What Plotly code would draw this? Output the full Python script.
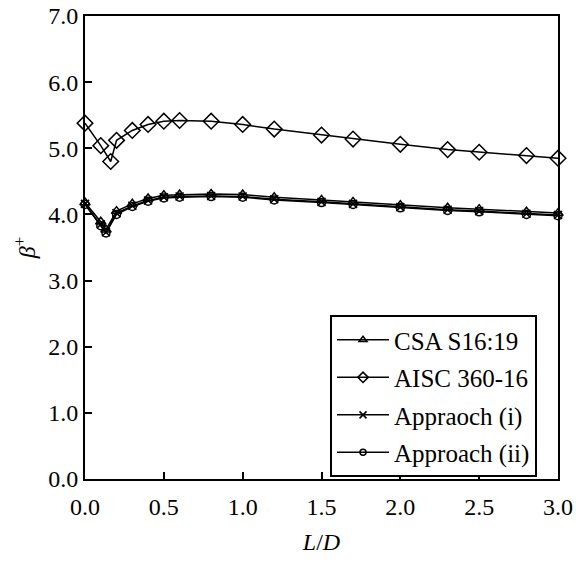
import plotly.graph_objects as go

x_lower = [0, 0.1, 0.133, 0.2, 0.3, 0.4, 0.5, 0.6, 0.8, 1.0, 1.2, 1.5, 1.7, 2.0, 2.3, 2.5, 2.8, 3.0]
x_aisc = [0, 0.1, 0.163, 0.2, 0.3, 0.4, 0.5, 0.6, 0.8, 1.0, 1.2, 1.5, 1.7, 2.0, 2.3, 2.5, 2.8, 3.0]

csa = [4.18, 3.89, 3.77, 4.05, 4.16, 4.24, 4.29, 4.30, 4.31, 4.30, 4.26, 4.22, 4.19, 4.14, 4.10, 4.08, 4.04, 4.02]
aisc = [5.38, 5.04, 4.80, 5.12, 5.27, 5.36, 5.41, 5.42, 5.41, 5.36, 5.29, 5.20, 5.14, 5.06, 4.98, 4.94, 4.89, 4.85]
appr_i = [4.16, 3.85, 3.73, 4.02, 4.13, 4.21, 4.26, 4.27, 4.28, 4.27, 4.23, 4.19, 4.16, 4.11, 4.07, 4.05, 4.01, 3.99]
appr_ii = [4.15, 3.83, 3.72, 4.00, 4.12, 4.20, 4.25, 4.26, 4.27, 4.26, 4.22, 4.18, 4.15, 4.10, 4.06, 4.04, 4.00, 3.98]

names = ["CSA S16:19", "AISC 360-16", "Appraoch (i)", "Approach (ii)"]

FONT = "Liberation Serif, Times New Roman, serif"
FS = 24

series = [
    (names[0], x_lower, csa, "triangle-up-open", 9, 7),
    (names[1], x_aisc, aisc, "diamond-open", 12, 8),
    (names[2], x_lower, appr_i, "x-thin-open", 8, 7),
    (names[3], x_lower, appr_ii, "circle-open", 8, 6),
]

fig = go.Figure()
for i, (nm, xs, ys, sym, sz, lsz) in enumerate(series):
    fig.add_trace(go.Scatter(
        x=xs, y=ys, name=nm, mode="lines+markers",
        line=dict(color="black", width=1.5),
        marker=dict(symbol=sym, size=sz, color="black", line=dict(color="black", width=1.5)),
        cliponaxis=False, showlegend=False,
    ))
for i, (nm, xs, ys, sym, sz, lsz) in enumerate(series):
    fig.add_trace(go.Scatter(
        x=[None], y=[None], name=nm, mode="lines+markers",
        line=dict(color="black", width=1.5),
        marker=dict(symbol=sym, size=lsz, color="black", line=dict(color="black", width=1.5)),
        legendgroup=f"g{i}", showlegend=True,
    ))

fig.update_layout(
    width=576, height=565,
    margin=dict(l=85, r=18, t=16, b=86, autoexpand=False),
    paper_bgcolor="white", plot_bgcolor="white",
    font=dict(family=FONT, size=FS, color="black"),
    legend=dict(
        x=0.518, y=0.354, xanchor="left", yanchor="top",
        bordercolor="black", borderwidth=2, bgcolor="white",
        font=dict(family=FONT, size=25, color="black"),
        tracegroupgap=2, traceorder="grouped", itemwidth=52,
    ),
)
fig.update_xaxes(
    range=[0, 3], dtick=0.5, tick0=0, tickformat=".1f", automargin=False,
    showline=True, linecolor="black", linewidth=2, mirror=True,
    ticks="inside", ticklen=7, tickwidth=1.5, tickcolor="black",
    ticklabelstandoff=5,
    showgrid=False, zeroline=False,
    title=dict(text="<i>L</i>/<i>D</i>", font=dict(family=FONT, size=FS), standoff=14),
)
fig.update_yaxes(
    range=[0, 7], dtick=1, tick0=0, tickformat=".1f", automargin=False,
    showline=True, linecolor="black", linewidth=2, mirror=True,
    ticks="inside", ticklen=7, tickwidth=1.5, tickcolor="black",
    showgrid=False, zeroline=False,
    title=dict(text="<i>β</i><sup>+</sup>", font=dict(family=FONT, size=FS), standoff=6),
)

fig.write_html("out.html")
